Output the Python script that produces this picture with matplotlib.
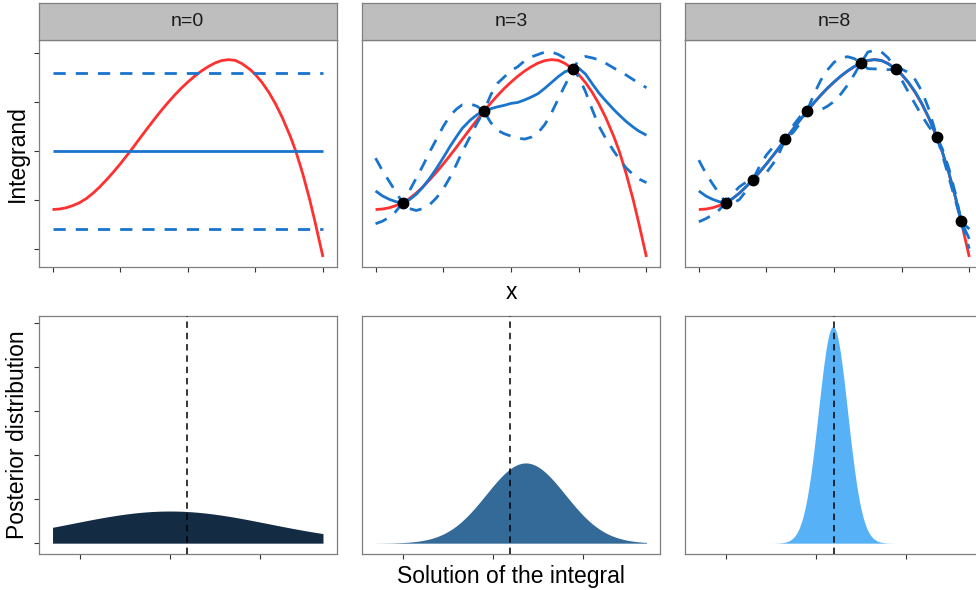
import numpy as np
import matplotlib
matplotlib.use("Agg")
import matplotlib.pyplot as plt

plt.rcParams['font.family'] = ['Liberation Sans', 'DejaVu Sans']

# ---- data -------------------------------------------------------------
panel_labels = ["n=0", "n=3", "n=8"]

x_grid = [0.0, 0.025, 0.05, 0.075, 0.1, 0.125, 0.15, 0.175, 0.2, 0.225,
          0.25, 0.275, 0.3, 0.32, 0.35, 0.375, 0.4, 0.425, 0.45, 0.475,
          0.5, 0.525, 0.55, 0.575, 0.6, 0.625, 0.65, 0.675, 0.7, 0.73,
          0.75, 0.775, 0.8, 0.825, 0.85, 0.88, 0.9, 0.925, 0.95, 0.97, 1.0]

true_f = [-1.20, -1.19, -1.165, -1.12, -1.06, -0.975, -0.865, -0.735, -0.59, -0.435,
          -0.27, -0.095, 0.085, 0.235, 0.455, 0.635, 0.81, 0.975, 1.13, 1.275,
          1.405, 1.525, 1.63, 1.72, 1.795, 1.845, 1.865, 1.85, 1.785, 1.665,
          1.56, 1.395, 1.195, 0.955, 0.675, 0.285, -0.015, -0.465, -0.978, -1.438, -2.17]

# prior (n=0): constant mean and credible band
prior_mean = 0.0
prior_upper = 1.6
prior_lower = -1.6

mean_n3 = [-0.82, -0.92, -0.99, -1.04, -1.06, -1.00, -0.89, -0.74, -0.56, -0.36,
           -0.14, 0.09, 0.30, 0.46, 0.63, 0.74, 0.81, 0.86, 0.90, 0.93,
           0.97, 0.99, 1.04, 1.10, 1.17, 1.28, 1.40, 1.52, 1.62, 1.665,
           1.69, 1.57, 1.37, 1.18, 1.02, 0.84, 0.73, 0.60, 0.49, 0.41, 0.32]
upper_n3 = [-0.15, -0.40, -0.62, -0.84, -1.06, -0.82, -0.56, -0.30, -0.02, 0.24,
            0.50, 0.72, 0.86, 0.94, 0.96, 0.91, 0.81, 1.14, 1.38, 1.51,
            1.64, 1.72, 1.84, 1.92, 1.97, 2.02, 2.02, 1.97, 1.89, 1.665,
            1.87, 1.93, 1.90, 1.86, 1.79, 1.69, 1.63, 1.55, 1.46, 1.39, 1.29]
lower_n3 = [-1.49, -1.44, -1.36, -1.24, -1.06, -1.18, -1.22, -1.18, -1.10, -0.96,
            -0.78, -0.54, -0.26, -0.02, 0.30, 0.57, 0.81, 0.58, 0.42, 0.35,
            0.30, 0.26, 0.24, 0.28, 0.37, 0.54, 0.78, 1.07, 1.35, 1.665,
            1.51, 1.21, 0.84, 0.50, 0.25, -0.01, -0.17, -0.35, -0.48, -0.57, -0.65]

mean_n8 = [-0.82, -0.92, -0.99, -1.04, -1.06, -0.975, -0.865, -0.73, -0.59, -0.43,
           -0.265, -0.09, 0.09, 0.235, 0.455, 0.635, 0.81, 0.98, 1.135, 1.28,
           1.41, 1.53, 1.635, 1.725, 1.80, 1.85, 1.865, 1.845, 1.78, 1.665,
           1.56, 1.40, 1.205, 0.965, 0.68, 0.285, -0.015, -0.46, -0.97, -1.44, -1.80]
upper_n8 = [-0.19, -0.45, -0.67, -0.87, -1.06, -0.875, -0.735, -0.64, -0.59, -0.31,
            -0.085, 0.08, 0.19, 0.235, 0.525, 0.705, 0.81, 1.15, 1.435, 1.65,
            1.81, 1.90, 1.925, 1.885, 1.80, 2.02, 2.055, 2.025, 1.90, 1.665,
            1.67, 1.60, 1.455, 1.215, 0.86, 0.285, 0.045, -0.37, -0.90, -1.44, -1.60]
lower_n8 = [-1.45, -1.39, -1.31, -1.21, -1.06, -1.075, -0.995, -0.82, -0.59, -0.55,
            -0.445, -0.26, -0.01, 0.235, 0.385, 0.565, 0.81, 0.81, 0.835, 0.91,
            1.01, 1.16, 1.345, 1.565, 1.80, 1.68, 1.675, 1.665, 1.66, 1.665,
            1.45, 1.20, 0.955, 0.715, 0.50, 0.285, -0.075, -0.55, -1.04, -1.44, -2.00]

obs_x_n3 = [0.10, 0.40, 0.73]
obs_y_n3 = [-1.06, 0.81, 1.665]
obs_x_n8 = [0.10, 0.20, 0.32, 0.40, 0.60, 0.73, 0.88, 0.97]
obs_y_n8 = [-1.06, -0.59, 0.235, 0.81, 1.80, 1.665, 0.285, -1.44]

# Gaussian posterior of the integral for each design
post_mean = [0.0, 0.181, 0.094]
post_sd = [0.5465, 0.219, 0.0811]
post_support = [-0.65, 0.85]
true_integral = 0.097
fill_colors = ["#132B43", "#336A98", "#56B1F7"]

# ---- styling ----------------------------------------------------------
RED = "#FF3030"
BLUE = "#1874CD"
BORDER = "#7F7F7F"
STRIP_FILL = "#BEBEBE"
TICK_COLOR = "#333333"
LW_CURVE = 2.0
DASH = (4.4, 3.6)

W, H = 976, 590
fig = plt.figure(figsize=(W / 100, H / 100), dpi=100)


def rect(x0, y0, x1, y1):
    """Pixel box (top-left origin) -> figure-fraction rect."""
    return [x0 / W, 1 - y1 / H, (x1 - x0) / W, (y1 - y0) / H]


col_x = [(39.0, 336.5), (362.0, 660.0), (685.3, 982.8)]
top_y = (40.0, 267.3)
strip_y = (2.7, 40.0)
bot_y = (315.7, 554.0)


def style_axes(ax, show_y):
    for s in ax.spines.values():
        s.set_color(BORDER)
        s.set_linewidth(0.9)
    ax.tick_params(axis="both", direction="out", length=3.8, width=0.8,
                   color=TICK_COLOR, labelbottom=False, labelleft=False)
    if not show_y:
        ax.tick_params(axis="y", left=False)


# y range shared across the top row
all_vals = true_f + upper_n3 + lower_n3 + upper_n8 + lower_n8 + [prior_upper, prior_lower]
ymin, ymax = min(all_vals), max(all_vals)
pad = 0.05 * (ymax - ymin)
top_ylim = (ymin - pad, ymax + pad)

curves = [
    None,
    (mean_n3, upper_n3, lower_n3, obs_x_n3, obs_y_n3),
    (mean_n8, upper_n8, lower_n8, obs_x_n8, obs_y_n8),
]

for i, (x0, x1) in enumerate(col_x):
    ax = fig.add_axes(rect(x0, top_y[0], x1, top_y[1]))
    ax.plot(x_grid, true_f, color=RED, lw=LW_CURVE, solid_capstyle="butt",
            solid_joinstyle="round", zorder=2)
    if curves[i] is None:
        ax.plot([x_grid[0], x_grid[-1]], [prior_mean, prior_mean], color=BLUE,
                lw=LW_CURVE, solid_capstyle="butt", zorder=3)
        for lvl in (prior_upper, prior_lower):
            ax.plot([x_grid[0], x_grid[-1]], [lvl, lvl], color=BLUE, lw=LW_CURVE,
                    dashes=DASH, dash_capstyle="butt", zorder=3)
    else:
        m, up, lo, ox, oy = curves[i]
        ax.plot(x_grid, m, color=BLUE, lw=LW_CURVE, solid_capstyle="butt",
                solid_joinstyle="round", zorder=3)
        ax.plot(x_grid, up, color=BLUE, lw=LW_CURVE, dashes=DASH,
                dash_capstyle="butt", zorder=3)
        ax.plot(x_grid, lo, color=BLUE, lw=LW_CURVE, dashes=DASH,
                dash_capstyle="butt", zorder=3)
        ax.plot(ox, oy, "o", color="black", ms=7.5, zorder=4)
    ax.set_xlim(-0.05, 1.05)
    ax.set_ylim(*top_ylim)
    ax.set_xticks([0, 0.25, 0.5, 0.75, 1.0])
    ax.set_yticks([-2, -1, 0, 1, 2])
    style_axes(ax, show_y=(i == 0))

    # facet strip
    sax = fig.add_axes(rect(x0, strip_y[0], x1, strip_y[1]))
    sax.set_facecolor(STRIP_FILL)
    sax.set_xticks([])
    sax.set_yticks([])
    for s in sax.spines.values():
        s.set_color(BORDER)
        s.set_linewidth(0.9)
    sax.text(0.5, 0.5, panel_labels[i], ha="center", va="center",
             fontsize=14, color="#1A1A1A", transform=sax.transAxes)

# posterior densities
xs = np.linspace(post_support[0], post_support[1], 600)
dens = [np.exp(-0.5 * ((xs - m) / s) ** 2) / (s * np.sqrt(2 * np.pi))
        for m, s in zip(post_mean, post_sd)]
dmax = max(d.max() for d in dens)
span = post_support[1] - post_support[0]

for i, (x0, x1) in enumerate(col_x):
    ax = fig.add_axes(rect(x0, bot_y[0], x1, bot_y[1]))
    ax.fill_between(xs, 0, dens[i], color=fill_colors[i], lw=0, zorder=2)
    ax.axvline(true_integral, color="black", lw=1.1, dashes=(4.2, 3.2), zorder=3)
    ax.set_xlim(post_support[0] - 0.05 * span, post_support[1] + 0.05 * span)
    ax.set_ylim(-0.05 * dmax, 1.05 * dmax)
    ax.set_xticks([-0.5, 0.0, 0.5])
    ax.set_yticks([0, 1, 2, 3, 4, 5])
    style_axes(ax, show_y=(i == 0))

# axis titles
fig.text(17.5 / W, 1 - 153.5 / H, "Integrand", rotation=90, ha="center",
         va="center", fontsize=16.5, color="black")
fig.text(17.5 / W, 1 - 434.5 / H, "Posterior distribution", rotation=90,
         ha="center", va="center", fontsize=16.5, color="black")
fig.text(511 / W, 1 - 292.5 / H, "x", ha="center", va="center",
         fontsize=16.5, color="black")
fig.text(511 / W, 1 - 577 / H, "Solution of the integral", ha="center",
         va="center", fontsize=16.5, color="black")

fig.savefig("out.png", dpi=100)
